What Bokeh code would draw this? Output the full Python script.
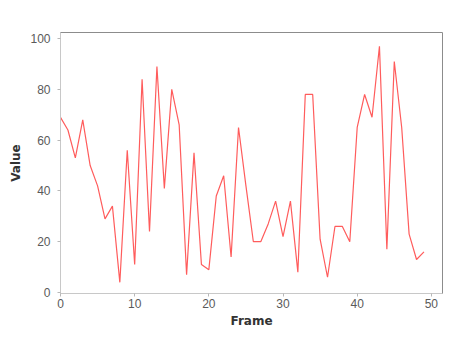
from bokeh.plotting import figure
from bokeh.models import Range1d, FixedTicker
from bokeh.embed import file_html
from bokeh.resources import INLINE

frames = list(range(50))
values = [69, 64, 53, 68, 50, 42, 29, 34, 4, 56, 11, 84, 24, 89, 41, 80, 66, 7, 55, 11,
          9, 38, 46, 14, 65, 42, 20, 20, 27, 36, 22, 36, 8, 78, 78, 21, 6, 26, 26, 20,
          65, 78, 69, 97, 17, 91, 65, 23, 13, 16]
x_ticks = [0, 10, 20, 30, 40, 50]
y_ticks = [0, 20, 40, 60, 80, 100]

p = figure(width=445, height=330, output_backend="svg", toolbar_location=None,
           x_range=Range1d(0, 51.5), y_range=Range1d(-0.4, 102.4),
           min_border_left=60, min_border_top=32, min_border_right=3, min_border_bottom=36)

p.line(frames, values, line_color="#ff5c5c", line_width=1.2)

p.outline_line_color = "#8c8c8c"
p.outline_line_width = 1
p.xgrid.visible = False
p.ygrid.visible = False
p.background_fill_color = "white"
p.border_fill_color = "white"

for ax, ticks in ((p.xaxis[0], x_ticks), (p.yaxis[0], y_ticks)):
    ax.ticker = FixedTicker(ticks=ticks)
    ax.axis_line_color = "#c8c8c8"
    ax.major_tick_line_color = "#b8b8b8"
    ax.major_tick_out = 3
    ax.major_tick_in = 0
    ax.minor_tick_line_color = None
    ax.major_label_text_font = "Liberation Sans"
    ax.major_label_text_font_size = "12px"
    ax.major_label_text_color = "#5a5a5a"
    ax.axis_label_text_font = "DejaVu Sans"
    ax.axis_label_text_font_size = "12px"
    ax.axis_label_text_font_style = "bold"
    ax.axis_label_text_color = "#333333"

p.xaxis.axis_label = "Frame"
p.yaxis.axis_label = "Value"
p.yaxis.major_label_standoff = 7
p.xaxis.major_label_standoff = 2
p.xaxis.axis_label_standoff = 3
p.yaxis.axis_label_standoff = 4

open("out.html", "w").write(file_html(p, INLINE))
